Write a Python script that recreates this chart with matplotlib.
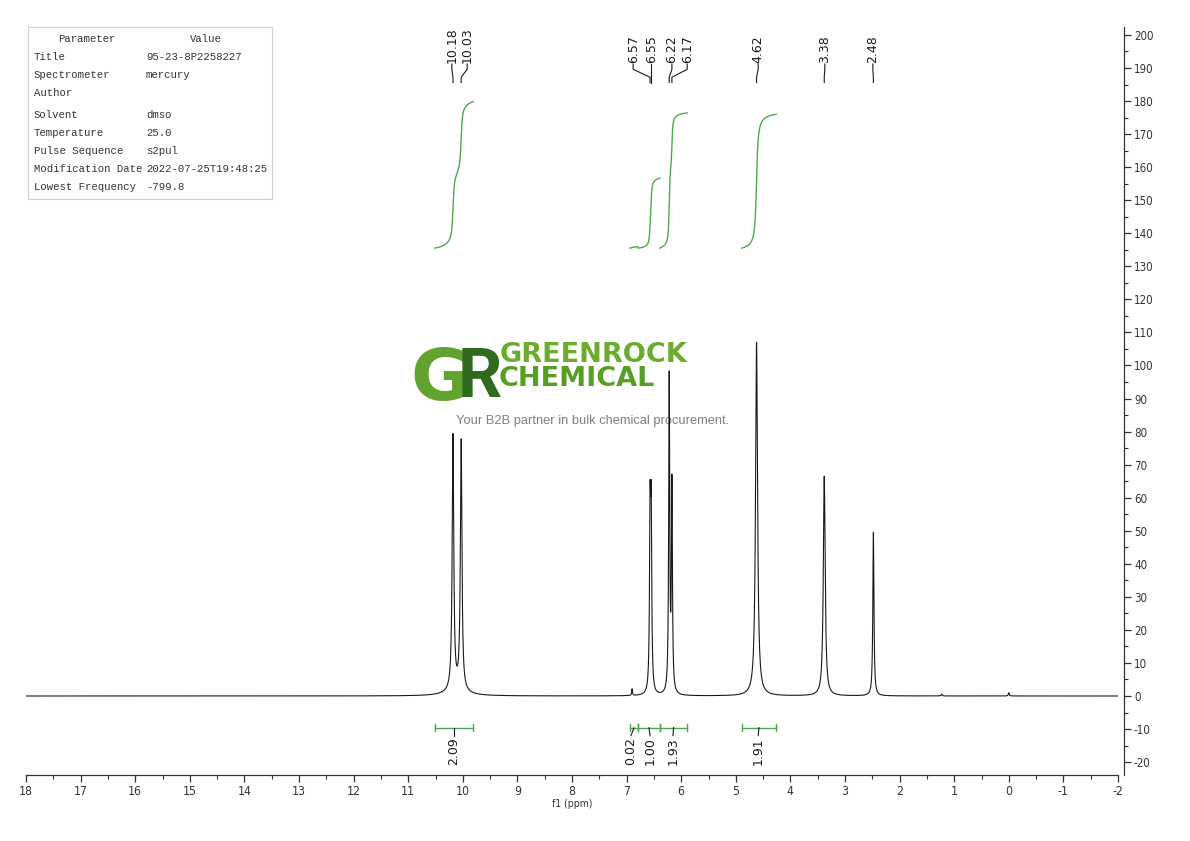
import numpy as np
import matplotlib
matplotlib.use("Agg")
import matplotlib.pyplot as plt
from matplotlib.patches import Rectangle
from matplotlib.ticker import MultipleLocator, FuncFormatter

W, H = 1190, 841

# ---- spectrum peaks (ppm, height, half width) ----
peak_ppm = [10.18, 10.03, 10.12, 6.90, 6.57, 6.55, 6.22, 6.17, 4.62, 3.38, 2.48, 1.23, 0.00]
peak_height = [77.0, 75.5, 1.6, 2.0, 51.0, 51.0, 95.3, 62.6, 107.0, 66.5, 49.5, 0.6, 1.0]
peak_hwhm = [0.017, 0.017, 0.20, 0.008, 0.012, 0.012, 0.011, 0.011, 0.022, 0.020, 0.012, 0.010, 0.010]

# ---- peak picking labels ----
peak_labels = ["10.18", "10.03", "6.57", "6.55", "6.22", "6.17", "4.62", "3.38", "2.48"]
peak_label_pos = [10.20, 9.92, 6.88, 6.55, 6.17, 5.89, 4.59, 3.37, 2.49]

# ---- integrals ----
int_values = [2.09, 0.02, 1.00, 1.93, 1.91]
int_from = [10.51, 6.94, 6.79, 6.39, 4.89]
int_to = [9.81, 6.79, 6.39, 5.89, 4.26]
int_label_pos = [10.16, 6.92, 6.57, 6.15, 4.59]

# ---- parameter table ----
table_params = ["Title", "Spectrometer", "Author", "Solvent", "Temperature",
                "Pulse Sequence", "Modification Date", "Lowest Frequency"]
table_values = ["95-23-8P2258227", "mercury", "", "dmso", "25.0",
                "s2pul", "2022-07-25T19:48:25", "-799.8"]

GREEN = "#4fa84f"
plt.rcParams["axes.unicode_minus"] = False
TICK_FONT = ["DejaVu Sans"]

ppm = np.linspace(18, -2, 20001)
spec = np.zeros_like(ppm)
for x0, h, w in zip(peak_ppm, peak_height, peak_hwhm):
    spec += h * w ** 2 / ((ppm - x0) ** 2 + w ** 2)

fig = plt.figure(figsize=(W / 100, H / 100), dpi=100)
ax = fig.add_axes([26 / W, 1 - 775 / H, (1118 - 26) / W, (775 - 27) / H])
ax.set_facecolor("none")
ax.plot(ppm, spec, color="#1a1a1a", lw=0.8, zorder=2)
ax.set_xlim(18, -2)
ax.set_ylim(-23.9, 202.4)

for s in ("top", "left"):
    ax.spines[s].set_visible(False)
ax.spines["right"].set_position(("outward", 4.5))
for s in ("right", "bottom"):
    ax.spines[s].set_linewidth(0.9)
    ax.spines[s].set_color("#333333")
ax.yaxis.tick_right()
ax.xaxis.set_major_locator(MultipleLocator(1))
ax.xaxis.set_minor_locator(MultipleLocator(0.5))
ax.yaxis.set_major_locator(MultipleLocator(10))
ax.yaxis.set_minor_locator(MultipleLocator(5))
fmt = FuncFormatter(lambda v, p: f"{v:g}")
ax.xaxis.set_major_formatter(fmt)
ax.yaxis.set_major_formatter(fmt)
ax.tick_params(which="major", length=5, width=0.9, color="#333333", pad=2)
ax.tick_params(axis="x", labelsize=8.8)
ax.tick_params(axis="y", labelsize=8.3)
ax.tick_params(which="minor", length=3, width=0.8, color="#333333")
for lab in ax.get_xticklabels() + ax.get_yticklabels():
    lab.set_family(TICK_FONT)
    lab.set_fontstretch("condensed")
    lab.set_color("#333333")
ax.set_xlabel("f1 (ppm)", fontsize=7.5, family=TICK_FONT, fontstretch="condensed",
              labelpad=1, color="#333333")

# peak labels on top
for txt, pos in zip(peak_labels, peak_label_pos):
    pk = float(txt)
    ax.text(pos, 191.6, txt, rotation=90, ha="center", va="bottom", fontsize=9,
            color="#1a1a1a", clip_on=False)
    ax.plot([pos, pos, pk, pk], [191.2, 189.6, 187.2, 185.6], color="#1a1a1a",
            lw=0.8, clip_on=False)

# integral brackets, labels and curves
for val, a, b, pos in zip(int_values, int_from, int_to, int_label_pos):
    ax.plot([a, b], [-9.6, -9.6], color=GREEN, lw=1.0)
    ax.plot([a, a], [-8.5, -10.7], color=GREEN, lw=1.0)
    ax.plot([b, b], [-8.5, -10.7], color=GREEN, lw=1.0)
    mid = (a + b) / 2
    ax.plot([mid, pos], [-9.6, -12.0], color="#1a1a1a", lw=0.8)
    ax.text(pos, -12.4, f"{val:.2f}", rotation=90, ha="center", va="top",
            fontsize=9, color="#1a1a1a")
    sel = (ppm <= a) & (ppm >= b)
    cum = np.cumsum(spec[sel])
    curve = 135.5 + val * 21.2 * cum / cum[-1]
    ax.plot(ppm[sel], curve, color=GREEN, lw=1.0)

# watermark logo (behind the spectrum)
ft = fig.transFigure
ax.text(410 / W, 1 - 400 / H, "G", transform=ft, fontsize=52, fontweight="bold",
        family="DejaVu Sans", color="#62a22e", zorder=0.5, va="baseline")
ax.text(458 / W, 1 - 397 / H, "R", transform=ft, fontsize=50, fontweight="bold",
        family=["Roboto", "DejaVu Sans"], color="#2f6a1f", zorder=0.6,
        va="baseline")
ax.text(500 / W, 1 - 362 / H, "GREENROCK", transform=ft, fontsize=19.5, fontweight="bold",
        family="DejaVu Sans", color="#6aac2c", zorder=0.6, va="baseline")
ax.text(499 / W, 1 - 386 / H, "CHEMICAL", transform=ft, fontsize=19.5, fontweight="bold",
        family="DejaVu Sans", color="#55a024", zorder=0.6, va="baseline")
ax.text(456 / W, 1 - 421 / H, "Your B2B partner in bulk chemical procurement.",
        transform=ft, fontsize=9.3, family="Liberation Sans", color="#7f7f7f",
        zorder=0.6, va="center")

# parameter table
ax.add_patch(Rectangle((28 / W, 1 - 199 / H), 244 / W, 172 / H, transform=ft,
                       facecolor="white", edgecolor="#cfcfcf", lw=0.8,
                       clip_on=False, zorder=3))
tfont = dict(family="Liberation Mono", fontsize=7.7, color="#333333",
             transform=ft, va="center", zorder=4)
ax.text(87 / W, 1 - 39 / H, "Parameter", ha="center", **tfont)
ax.text(206 / W, 1 - 39 / H, "Value", ha="center", **tfont)
row_y = [57, 75, 93, 115, 133, 151, 169, 187]
for y, p, v in zip(row_y, table_params, table_values):
    ax.text(34 / W, 1 - y / H, p, ha="left", **tfont)
    ax.text(146 / W, 1 - y / H, v, ha="left", **tfont)

fig.savefig("out.png", dpi=100)
